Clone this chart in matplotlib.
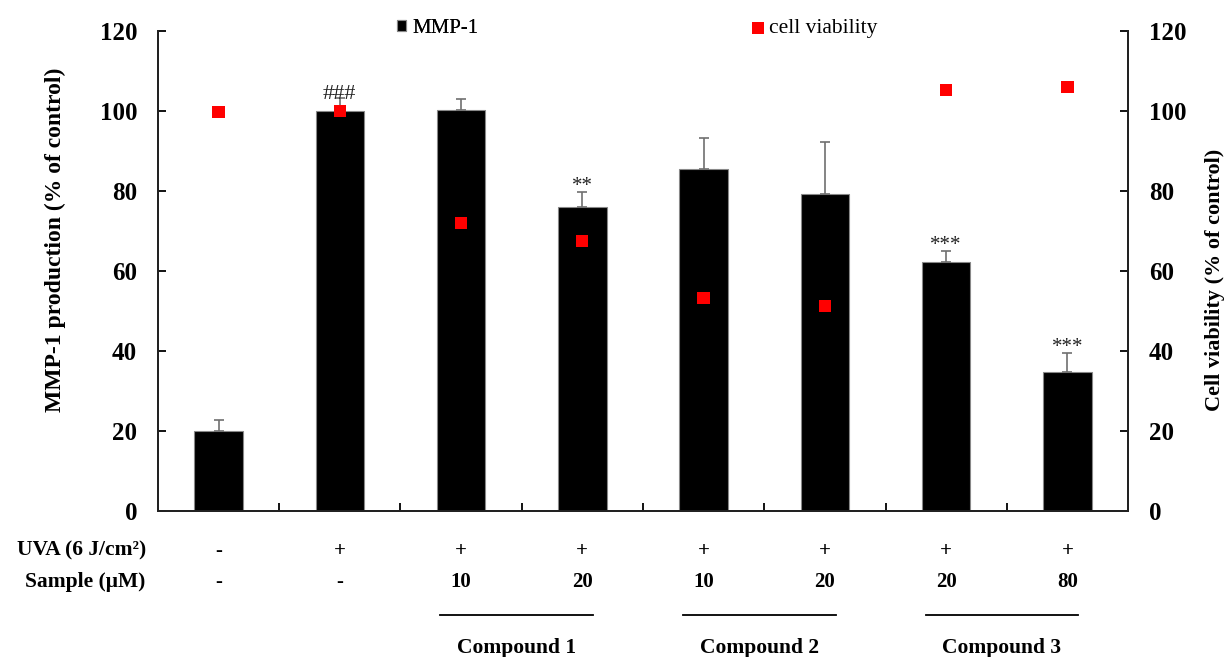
import numpy as np
import matplotlib.pyplot as plt

plt.rcParams["font.family"] = ["Liberation Serif", "DejaVu Serif"]

# MMP-1 production (% of control), upper error, and cell viability (% of control)
mmp1 = [20.1, 100.0, 100.2, 76.1, 85.6, 79.2, 62.3, 34.8]
mmp1_err = [2.6, 3.3, 2.9, 3.8, 7.7, 13.2, 2.8, 4.8]
viability = [99.8, 100.0, 72.0, 67.5, 53.2, 51.3, 105.2, 106.0]
signif = ["", "###", "", "**", "", "", "***", "***"]

uva_row = ["-", "+", "+", "+", "+", "+", "+", "+"]
sample_row = ["-", "-", "10", "20", "10", "20", "20", "80"]
compounds = ["Compound 1", "Compound 2", "Compound 3"]
compound_groups = [(2, 3), (4, 5), (6, 7)]

fig = plt.figure(figsize=(12.24, 6.57), dpi=100)
ax = fig.add_axes([0.129, 0.222, 0.7926, 0.7306])
ax2 = ax.twinx()

x = np.arange(len(mmp1))
ax.bar(x, mmp1, width=0.4, color="black", edgecolor="#888888", linewidth=0.8,
       label="MMP-1", zorder=2)
ax.errorbar(x, mmp1, yerr=[np.zeros(len(mmp1)), mmp1_err], fmt="none",
            ecolor="#707070", elinewidth=1.2, capsize=3.5, capthick=1.2, zorder=3)

for xi, v, e, s in zip(x, mmp1, mmp1_err, signif):
    if s == "###":
        ax.text(xi, v + e - 1.6, s, ha="center", va="bottom", fontsize=16,
                color="#222222", zorder=4)
    elif s:
        ax.text(xi, v + e - 1.0, s, ha="center", va="bottom", fontsize=15,
                color="#222222", zorder=4)

ax2.scatter(x, viability, marker="s", s=78, color="#ff0000", edgecolors="none",
            label="cell viability", zorder=5)

for a in (ax, ax2):
    a.set_ylim(0, 120)
    a.set_yticks(range(0, 121, 20))
    a.tick_params(axis="y", direction="in", length=6, width=1.3, labelsize=18, pad=15)
    for lab in a.get_yticklabels():
        lab.set_fontweight("bold")
    for sp in a.spines.values():
        sp.set_linewidth(1.4)
        sp.set_color("#222222")
    a.spines["top"].set_visible(False)

ax.set_xlim(-0.5, len(mmp1) - 0.5)
ax.set_xticks(np.arange(0.5, len(mmp1) - 0.5, 1.0))
ax.set_xticklabels([])
ax.tick_params(axis="x", direction="in", length=6, width=1.3)
ax2.set_zorder(ax.get_zorder() + 1)
ax2.patch.set_visible(False)

ax.set_ylabel("MMP-1 production (% of control)", fontsize=17, fontweight="bold")
ax.yaxis.set_label_coords(-0.0946, 0.565)
ax2.set_ylabel("Cell viability (% of control)", fontsize=16, fontweight="bold")
ax2.yaxis.set_label_coords(1.0794, 0.481)

# legend entries as separate items
leg1 = ax.legend(loc="center left", bbox_to_anchor=(0.2464, 1.006), frameon=False,
                 fontsize=15, handlelength=0.45, handleheight=0.45, handletextpad=0.3,
                 borderpad=0, borderaxespad=0)
ax.add_artist(leg1)
ax2.legend(loc="center left", bbox_to_anchor=(0.612, 1.006), frameon=False,
           fontsize=15.5, handlelength=0.6, handletextpad=0.2, borderpad=0,
           borderaxespad=0)

# treatment table below the axis
trans = ax.get_xaxis_transform()
for xi, u, s in zip(x, uva_row, sample_row):
    ax.text(xi, -0.082, u, transform=trans, ha="center", va="center",
            fontsize=15, fontweight="bold")
    ax.text(xi, -0.148, s, transform=trans, ha="center", va="center",
            fontsize=15, fontweight="bold")
ax.text(-0.6, -0.082, "UVA (6 J/cm²)", transform=trans, ha="right",
        va="center", fontsize=15.5, fontweight="bold")
ax.text(-0.6, -0.148, "Sample (μM)", transform=trans, ha="right",
        va="center", fontsize=15.5, fontweight="bold")

for name, (a, b) in zip(compounds, compound_groups):
    ax.plot([a - 0.17, b + 0.09], [-0.217, -0.217], transform=trans, color="black",
            linewidth=1.3, clip_on=False)
    ax.text((a + b) / 2 - 0.04, -0.285, name, transform=trans, ha="center",
            va="center", fontsize=15.5, fontweight="bold")

fig.savefig("out.png", dpi=100)
